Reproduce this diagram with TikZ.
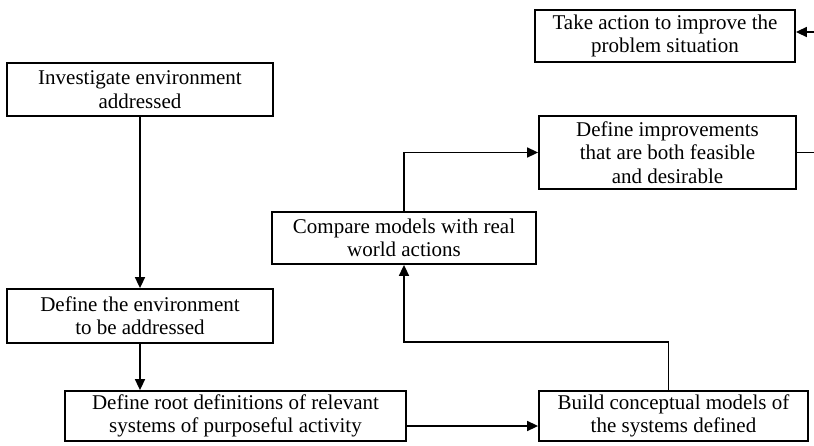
\documentclass[tikz,border=0pt]{standalone}
\usepackage{fontspec}
\setmainfont{Liberation Serif}
\usepackage{tikz}
\usetikzlibrary{arrows.meta,positioning,calc}

\tikzset{
  box/.style={draw, line width=0.9pt, align=center, inner sep=0pt,
    font=\fontsize{10.5}{11.7}\selectfont},
  arr/.style={draw, line width=0.8pt, -{Triangle[length=5.5pt,width=5pt]}}
}

\begin{document}
\begin{tikzpicture}[x=0.5pt,y=-0.5pt]
\useasboundingbox (0,0) rectangle (814,445);
% boxes
\node [box, minimum width=130pt, minimum height=26pt] (act) at (665,36) {Take action to improve the\\problem situation};
\node [box, minimum width=128.5pt, minimum height=36.5pt] (impr) at (667.5,152.5) {Define improvements\\that are both feasible\\and desirable};
\node [box, minimum width=133pt, minimum height=26.5pt] (inv) at (140,89.5) {Investigate environment\\addressed};
\node [box, minimum width=132pt, minimum height=26pt] (cmp) at (404,238) {Compare models with real\\world actions};
\node [box, minimum width=133pt, minimum height=27pt] (env) at (140,316) {Define the environment\\to be addressed};
\node [box, minimum width=170.5pt, minimum height=25pt] (root) at (235.5,416) {Define root definitions of relevant\\systems of purposeful activity};
\node [box, minimum width=134.5pt, minimum height=25pt] (build) at (673.5,416) {Build conceptual models of\\the systems defined};
% connectors
\draw[arr] (inv.south) -- (env.north);
\draw[arr] (env.south) -- (env.south |- root.north);
\draw[arr] ([yshift=-5pt]root.east) -- ([yshift=-5pt]root.east -| build.west);
\draw[arr] ([xshift=-2.5pt]build.north) -- ++(0,-48) -| (cmp.south);
\draw[arr] (cmp.north) |- (impr.west);
\draw[arr] (impr.east) -- ++(18.5,0) |- ([yshift=2pt]act.east);
\end{tikzpicture}
\end{document}
